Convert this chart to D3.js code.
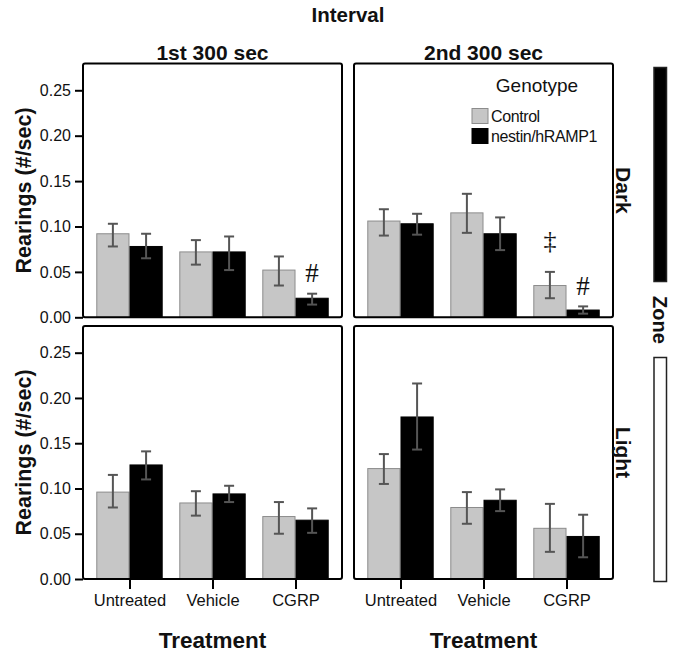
<!DOCTYPE html>
<html>
<head>
<meta charset="utf-8">
<script src="https://cdn.jsdelivr.net/npm/d3@7"></script>
<style>
  body { margin: 0; background: #fff; }
  svg { display: block; }
  text { font-family: "Liberation Sans", Arial, sans-serif; fill: #111; }
</style>
</head>
<body>
<svg id="chart" width="680" height="656"></svg>
<script>
// ---------------- data ----------------
const treatments = ["Untreated", "Vehicle", "CGRP"];
const genotypes = ["Control", "nestin/hRAMP1"];
const intervals = ["1st 300 sec", "2nd 300 sec"];
const zones = ["Dark", "Light"];
const yTicks = [0, 0.05, 0.10, 0.15, 0.20, 0.25];

// [treatment, genotype, mean, lower, upper]
const darkFirst = [
  ["Untreated", "Control", 0.092, 0.078, 0.103],
  ["Untreated", "nestin/hRAMP1", 0.078, 0.065, 0.092],
  ["Vehicle", "Control", 0.072, 0.058, 0.085],
  ["Vehicle", "nestin/hRAMP1", 0.072, 0.052, 0.089],
  ["CGRP", "Control", 0.052, 0.035, 0.067],
  ["CGRP", "nestin/hRAMP1", 0.021, 0.014, 0.026]
];
const darkSecond = [
  ["Untreated", "Control", 0.106, 0.090, 0.119],
  ["Untreated", "nestin/hRAMP1", 0.103, 0.091, 0.114],
  ["Vehicle", "Control", 0.115, 0.093, 0.136],
  ["Vehicle", "nestin/hRAMP1", 0.092, 0.074, 0.110],
  ["CGRP", "Control", 0.035, 0.021, 0.050],
  ["CGRP", "nestin/hRAMP1", 0.008, 0.004, 0.012]
];
const lightFirst = [
  ["Untreated", "Control", 0.096, 0.079, 0.115],
  ["Untreated", "nestin/hRAMP1", 0.126, 0.110, 0.141],
  ["Vehicle", "Control", 0.084, 0.070, 0.097],
  ["Vehicle", "nestin/hRAMP1", 0.094, 0.085, 0.103],
  ["CGRP", "Control", 0.069, 0.050, 0.085],
  ["CGRP", "nestin/hRAMP1", 0.065, 0.051, 0.078]
];
const lightSecond = [
  ["Untreated", "Control", 0.122, 0.105, 0.138],
  ["Untreated", "nestin/hRAMP1", 0.179, 0.143, 0.216],
  ["Vehicle", "Control", 0.079, 0.061, 0.096],
  ["Vehicle", "nestin/hRAMP1", 0.087, 0.075, 0.099],
  ["CGRP", "Control", 0.056, 0.030, 0.083],
  ["CGRP", "nestin/hRAMP1", 0.047, 0.024, 0.071]
];
// [panel, treatment, genotype, symbol]
const annotations = [
  ["darkFirst", "CGRP", "nestin/hRAMP1", "#"],
  ["darkSecond", "CGRP", "Control", "\u2021"],
  ["darkSecond", "CGRP", "nestin/hRAMP1", "#"]
];

// ---------------- layout ----------------
const svg = d3.select("#chart");
const colX = [83, 354];
const panelW = 259;
const rowY = [63.5, 326];
const panelH = [253.8, 253];
const yMax = 0.2795;
const fillColor = d3.scaleOrdinal().domain(genotypes).range(["#c6c6c6", "#000000"]);
const strokeColor = d3.scaleOrdinal().domain(genotypes).range(["#8c8c8c", "#000000"]);

const panels = [
  { key: "darkFirst", data: darkFirst, row: 0, col: 0 },
  { key: "darkSecond", data: darkSecond, row: 0, col: 1 },
  { key: "lightFirst", data: lightFirst, row: 1, col: 0 },
  { key: "lightSecond", data: lightSecond, row: 1, col: 1 }
];

const x0 = d3.scaleBand().domain(treatments).range([0, panelW]).paddingInner(0.2).paddingOuter(0.16);
const x1 = d3.scaleBand().domain(genotypes).range([0, x0.bandwidth()]);

panels.forEach(p => {
  const left = colX[p.col], top = rowY[p.row], h = panelH[p.row];
  const y = d3.scaleLinear().domain([0, yMax]).range([top + h, top]);
  const g = svg.append("g").attr("transform", `translate(${left},0)`);

  // bars
  g.selectAll("rect.bar").data(p.data).enter().append("rect")
    .attr("class", "bar")
    .attr("x", d => x0(d[0]) + x1(d[1]) + 0.5)
    .attr("width", x1.bandwidth() - 1)
    .attr("y", d => y(d[2]))
    .attr("height", d => y(0) - y(d[2]))
    .attr("fill", d => fillColor(d[1]))
    .attr("stroke", d => strokeColor(d[1]))
    .attr("stroke-width", 1);

  // error bars
  const eb = g.selectAll("g.err").data(p.data).enter().append("g")
    .attr("class", "err")
    .attr("stroke", "#555")
    .attr("stroke-width", 2);
  const cx = d => x0(d[0]) + x1(d[1]) + x1.bandwidth() / 2;
  eb.append("line").attr("x1", cx).attr("x2", cx).attr("y1", d => y(d[3])).attr("y2", d => y(d[4]));
  eb.append("line").attr("x1", d => cx(d) - 5).attr("x2", d => cx(d) + 5).attr("y1", d => y(d[4])).attr("y2", d => y(d[4]));
  eb.append("line").attr("x1", d => cx(d) - 5).attr("x2", d => cx(d) + 5).attr("y1", d => y(d[3])).attr("y2", d => y(d[3]));

  // annotations
  annotations.filter(a => a[0] === p.key).forEach(a => {
    const d = p.data.find(r => r[0] === a[1] && r[1] === a[2]);
    const gap = a[3] === "#" ? 21 : 32;
    g.append("text")
      .attr("x", cx(d))
      .attr("y", y(d[4]) - gap)
      .attr("dy", "0.35em")
      .attr("text-anchor", "middle")
      .style("font-family", "'Liberation Serif', 'Times New Roman', serif")
      .style("font-size", a[3] === "#" ? "27px" : "26px")
      .text(a[3]);
  });

  // frame
  g.append("rect")
    .attr("x", 0).attr("y", top)
    .attr("width", panelW).attr("height", h)
    .attr("rx", 2)
    .attr("fill", "none").attr("stroke", "#000").attr("stroke-width", 2);

  // y axis
  if (p.col === 0) {
    const ax = g.append("g").call(d3.axisLeft(y).tickValues(yTicks).tickFormat(d3.format(".2f")).tickSize(8).tickPadding(4));
    ax.select(".domain").remove();
    ax.selectAll("line").attr("stroke", "#000").attr("stroke-width", 2);
    ax.selectAll("text").style("font-size", "16px").style("font-family", "'Liberation Sans', Arial, sans-serif").attr("fill", "#111");
    g.append("text")
      .attr("transform", `translate(${-60},${top + h / 2}) rotate(-90)`)
      .attr("text-anchor", "middle")
      .attr("dy", "0.35em")
      .style("font-size", "21.5px").style("font-weight", "bold")
      .text("Rearings (#/sec)");
  }

  // x axis
  if (p.row === 1) {
    const xc = d3.scalePoint().domain(treatments).range([x0("Untreated") + x0.bandwidth() / 2, x0("CGRP") + x0.bandwidth() / 2]);
    const ax = g.append("g").attr("transform", `translate(0,${top + h})`)
      .call(d3.axisBottom(xc).tickSize(10).tickPadding(5));
    ax.select(".domain").remove();
    ax.selectAll("line").attr("stroke", "#000").attr("stroke-width", 2);
    ax.selectAll("text").style("font-size", "16.5px").style("font-family", "'Liberation Sans', Arial, sans-serif").attr("fill", "#111");
    g.append("text")
      .attr("x", panelW / 2).attr("y", 648)
      .attr("text-anchor", "middle")
      .style("font-size", "22.5px").style("font-weight", "bold")
      .text("Treatment");
  }

  // column titles
  if (p.row === 0) {
    g.append("text")
      .attr("x", panelW / 2).attr("y", 60)
      .attr("text-anchor", "middle")
      .style("font-size", "21px").style("font-weight", "bold")
      .text(intervals[p.col]);
  }

  // row labels
  if (p.col === 1) {
    g.append("text")
      .attr("transform", `translate(${panelW + 10},${top + h / 2}) rotate(90)`)
      .attr("text-anchor", "middle")
      .attr("dy", "0.35em")
      .style("font-size", "21px").style("font-weight", "bold")
      .text(zones[p.row]);
  }
});

// Interval title
svg.append("text")
  .attr("x", (colX[0] + colX[1] + panelW) / 2).attr("y", 22)
  .attr("text-anchor", "middle")
  .style("font-size", "20.5px").style("font-weight", "bold")
  .text("Interval");

// Legend (inside top-right panel)
const lg = svg.append("g").attr("transform", "translate(472,0)");
lg.append("text").attr("x", 65).attr("y", 92).attr("text-anchor", "middle")
  .style("font-size", "19px").text("Genotype");
genotypes.forEach((gname, i) => {
  lg.append("rect").attr("x", 0).attr("y", 108.5 + i * 20).attr("width", 16).attr("height", 15)
    .attr("fill", fillColor(gname)).attr("stroke", strokeColor(gname)).attr("stroke-width", 1);
  lg.append("text").attr("x", 19).attr("y", 122 + i * 20)
    .style("font-size", "16px").style("letter-spacing", "-0.4px").text(gname);
});

// Zone legend bars
const zoneFill = d3.scaleOrdinal().domain(zones).range(["#000000", "#ffffff"]);
const zoneBars = [[zones[0], 67.5, 214], [zones[1], 357.5, 224]];
zoneBars.forEach(z => {
  svg.append("rect").attr("x", 654).attr("y", z[1]).attr("width", 12.5).attr("height", z[2])
    .attr("fill", zoneFill(z[0])).attr("stroke", "#222").attr("stroke-width", 1.5);
});
svg.append("text")
  .attr("transform", "translate(660,320) rotate(90)")
  .attr("text-anchor", "middle").attr("dy", "0.35em")
  .style("font-size", "20px").style("font-weight", "bold")
  .text("Zone");
</script>
</body>
</html>
